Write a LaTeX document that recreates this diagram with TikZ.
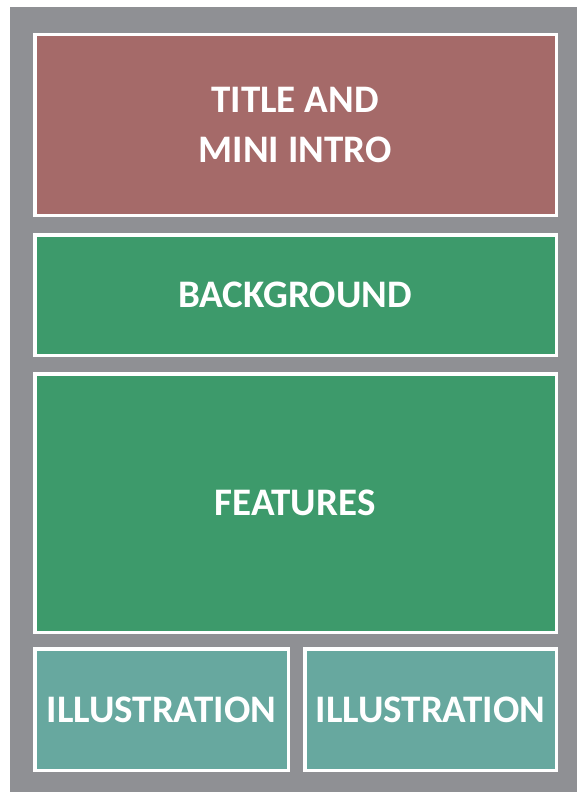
\documentclass[tikz,border=0pt]{standalone}
\usepackage{fontspec}
\setmainfont{Carlito}
\definecolor{bggray}{HTML}{8F9094}
\definecolor{titlered}{HTML}{A56A69}
\definecolor{secgreen}{HTML}{3D9A6B}
\definecolor{illteal}{HTML}{67A89F}
\begin{document}
\begin{tikzpicture}[x=1pt,y=-1pt,
  panel/.style={draw=white,line width=3.5pt},
  lbl/.style={text=white,font=\fontsize{39}{50}\selectfont\bfseries,align=center,inner sep=0pt}]
\useasboundingbox (0,0) rectangle (577,792);
\fill[white] (0,0) rectangle (577,792);
\fill[bggray] (10,7) rectangle (577,792);
\draw[panel,fill=titlered] (34.75,34.75) rectangle (556.25,215.25);
\draw[panel,fill=secgreen] (34.75,234.75) rectangle (556.25,355.25);
\draw[panel,fill=secgreen] (34.75,373.75) rectangle (556.25,632.25);
\draw[panel,fill=illteal] (34.75,648.75) rectangle (288.25,770.25);
\draw[panel,fill=illteal] (304.75,648.75) rectangle (556.25,770.25);
\node[lbl] (title) at (295,125) {TITLE AND\\MINI INTRO};
\node[lbl] (bg) at (295,295) {BACKGROUND};
\node[lbl] (feat) at (295,503) {FEATURES};
\node[lbl] (ill1) at (161.5,709.5) {ILLUSTRATION};
\node[lbl] (ill2) at (430.5,709.5) {ILLUSTRATION};
\end{tikzpicture}
\end{document}
